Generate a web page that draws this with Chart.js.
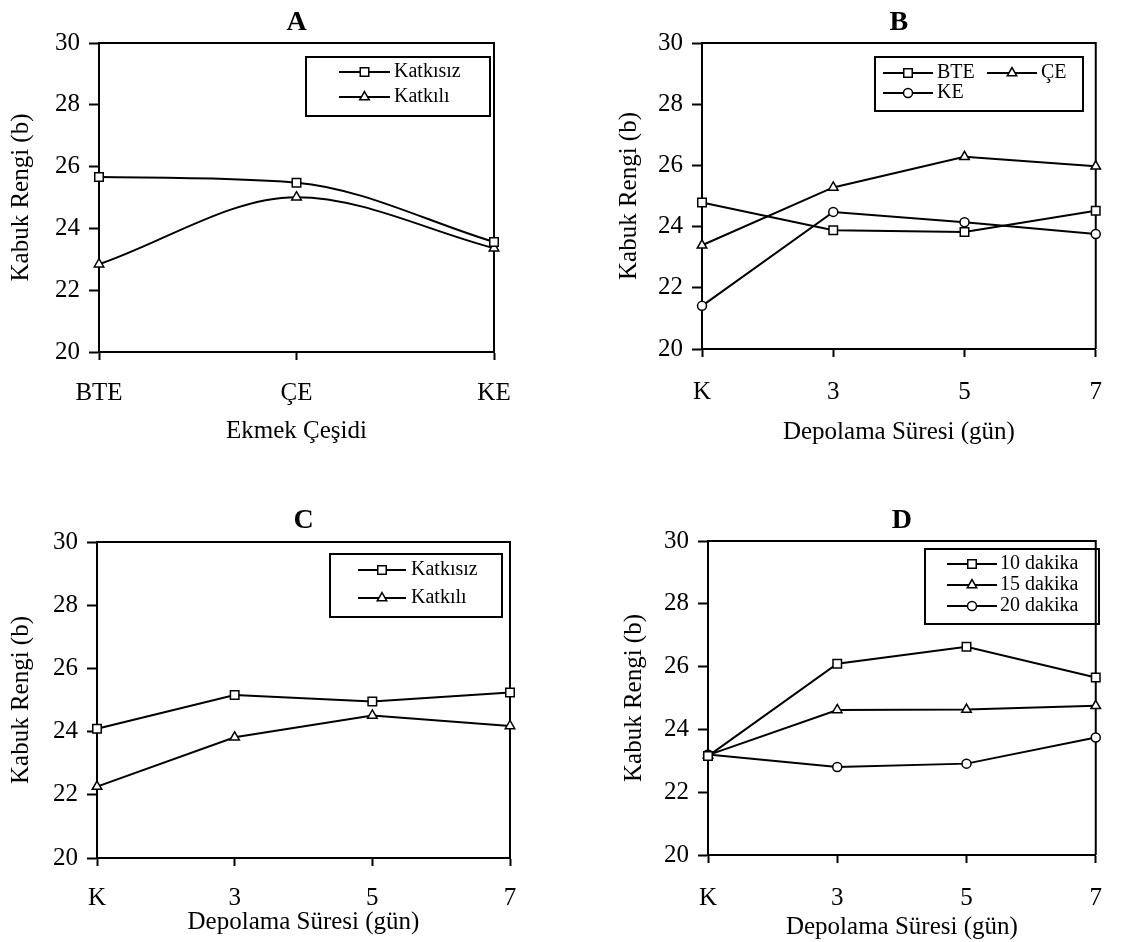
<!DOCTYPE html>
<html>
<head>
<meta charset="utf-8">
<script src="https://cdn.jsdelivr.net/npm/chart.js@4.4.1/dist/chart.umd.min.js"></script>
<style>
  body { margin: 0; background: #fff; }
  #wrap { position: relative; width: 1122px; height: 942px; overflow: hidden; }
  .pane { position: absolute; width: 561px; height: 471px; }
</style>
</head>
<body>
<div id="wrap">
  <div class="pane" style="left:0;top:0"><canvas id="chartA"></canvas></div>
  <div class="pane" style="left:561px;top:0"><canvas id="chartB"></canvas></div>
  <div class="pane" style="left:0;top:471px"><canvas id="chartC"></canvas></div>
  <div class="pane" style="left:561px;top:471px"><canvas id="chartD"></canvas></div>
</div>
<script>
// categories
const breadTypes = ['BTE', 'ÇE', 'KE'];
const storageDays = ['K', '3', '5', '7'];

// A: bread type
const aPlain = [25.66, 25.48, 23.56];
const aAdded = [22.84, 25.01, 23.36];
// B: storage, per bread type
const bBTE = [24.79, 23.88, 23.82, 24.52];
const bCE = [23.39, 25.28, 26.28, 25.97];
const bKE = [21.41, 24.48, 24.14, 23.76];
// C: storage, additive
const cPlain = [24.09, 25.16, 24.95, 25.24];
const cAdded = [22.26, 23.82, 24.51, 24.18];
// D: storage, baking time
const d10 = [23.15, 26.09, 26.63, 25.65];
const d15 = [23.18, 24.62, 24.63, 24.75];
const d20 = [23.20, 22.80, 22.91, 23.74];

const SERIF = "'Liberation Serif', 'Times New Roman', serif";
const radii = { rect: 6, triangle: 5.5, circle: 4.5 };

function series(label, data, shape, smooth) {
    const ds = {
        label: label,
        data: data,
        borderColor: '#000',
        borderWidth: 2,
        pointStyle: shape,
        pointRadius: radii[shape],
        pointBackgroundColor: '#fff',
        pointBorderColor: '#000',
        pointBorderWidth: 1.5,
        tension: 0,
        clip: false
    };
    if (smooth) ds.cubicInterpolationMode = 'monotone';
    return ds;
}

// top + right border of the plot box
const frame = {
    id: 'frame',
    beforeDatasetsDraw(chart) {
        const { ctx, chartArea: a } = chart;
        ctx.save();
        ctx.strokeStyle = '#000';
        ctx.lineWidth = 2;
        ctx.beginPath();
        ctx.moveTo(a.left, a.top);
        ctx.lineTo(a.right, a.top);
        ctx.lineTo(a.right, a.bottom);
        ctx.stroke();
        ctx.restore();
    }
};

// boxed legend inside the plot, line sample with marker in the middle
const boxLegend = {
    id: 'boxLegend',
    afterDraw(chart, args, opts) {
        if (!opts.box) return;
        const ctx = chart.ctx;
        const [bx, by, bw, bh] = opts.box;
        ctx.save();
        ctx.strokeStyle = '#000';
        ctx.lineWidth = 2;
        ctx.strokeRect(bx, by, bw, bh);
        ctx.font = opts.font;
        ctx.textBaseline = 'middle';
        opts.items.forEach(it => {
            const ds = chart.data.datasets[it.i];
            ctx.strokeStyle = '#000';
            ctx.lineWidth = 2;
            ctx.beginPath();
            ctx.moveTo(it.x, it.y);
            ctx.lineTo(it.x + opts.lineLen, it.y);
            ctx.stroke();
            ctx.fillStyle = '#fff';
            ctx.lineWidth = ds.pointBorderWidth;
            Chart.helpers.drawPoint(ctx, {
                pointStyle: ds.pointStyle,
                radius: ds.pointRadius,
                borderWidth: ds.pointBorderWidth,
                rotation: 0
            }, it.x + opts.lineLen / 2, it.y);
            ctx.fillStyle = '#000';
            ctx.fillText(ds.label, it.x + opts.lineLen + opts.gap, it.y);
        });
        ctx.restore();
    }
};

function makeConfig(g) {
    return {
        type: 'line',
        data: { labels: g.labels, datasets: g.datasets },
        options: {
            responsive: true,
            maintainAspectRatio: false,
            animation: false,
            devicePixelRatio: 1,
            layout: { padding: { left: 0, top: 0, bottom: 0, right: g.padRight } },
            plugins: {
                legend: { display: false },
                tooltip: { enabled: false },
                title: {
                    display: true,
                    text: g.title,
                    fullSize: false,
                    color: '#000',
                    font: { family: SERIF, size: 28, weight: 'bold', lineHeight: 1.2 },
                    padding: { top: g.titleTop, bottom: g.titleBottom }
                },
                boxLegend: g.legend
            },
            scales: {
                x: {
                    offset: false,
                    grid: { display: true, drawOnChartArea: false, tickLength: 8, tickWidth: 2, tickColor: '#000' },
                    border: { display: true, color: '#000', width: 2 },
                    ticks: {
                        color: '#000', autoSkip: false, maxRotation: 0,
                        font: { family: SERIF, size: 25 },
                        padding: g.xTickPad
                    },
                    title: {
                        display: true, text: g.xTitle, color: '#000',
                        font: { family: SERIF, size: 25, lineHeight: 1.2 },
                        padding: { top: 0, bottom: g.xTitlePad }
                    },
                    afterFit: s => { s.height = g.xHeight; }
                },
                y: {
                    min: 20, max: 30,
                    grid: { display: true, drawOnChartArea: false, tickLength: 10, tickWidth: 2, tickColor: '#000' },
                    border: { display: true, color: '#000', width: 2 },
                    ticks: {
                        stepSize: 2, color: '#000',
                        font: { family: SERIF, size: 25 },
                        padding: 9
                    },
                    title: {
                        display: true, text: 'Kabuk Rengi (b)', color: '#000',
                        font: { family: SERIF, size: 25, lineHeight: 1.2 },
                        padding: { top: g.yTitlePad, bottom: 0 }
                    },
                    afterFit: s => { s.width = g.yWidth; }
                }
            }
        },
        plugins: [frame, boxLegend]
    };
}

const LEGEND_FONT = "20px " + SERIF;

new Chart(document.getElementById('chartA'), makeConfig({
    title: 'A', labels: breadTypes,
    datasets: [series('Katkısız', aPlain, 'rect', true), series('Katkılı', aAdded, 'triangle', true)],
    padRight: 67, titleTop: 6.2, titleBottom: 3.2,
    yWidth: 99, yTitlePad: 6.5,
    xHeight: 119, xTickPad: 18, xTitle: 'Ekmek Çeşidi', xTitlePad: 25,
    legend: { box: [306, 57, 184, 59], font: LEGEND_FONT, lineLen: 51, gap: 4,
        items: [{ i: 0, x: 339, y: 72 }, { i: 1, x: 339, y: 97 }] }
}));

new Chart(document.getElementById('chartB'), makeConfig({
    title: 'B', labels: storageDays,
    datasets: [series('BTE', bBTE, 'rect'), series('ÇE', bCE, 'triangle'), series('KE', bKE, 'circle')],
    padRight: 17, titleTop: 6.2, titleBottom: 3.2,
    yWidth: 141, yTitlePad: 53,
    xHeight: 122, xTickPad: 20, xTitle: 'Depolama Süresi (gün)', xTitlePad: 24,
    legend: { box: [314, 57, 208, 54], font: LEGEND_FONT, lineLen: 50, gap: 4,
        items: [{ i: 0, x: 322, y: 73 }, { i: 1, x: 426, y: 73 }, { i: 2, x: 322, y: 93 }] }
}));

new Chart(document.getElementById('chartC'), makeConfig({
    title: 'C', labels: storageDays,
    datasets: [series('Katkısız', cPlain, 'rect'), series('Katkılı', cAdded, 'triangle')],
    padRight: 51, titleTop: 33.2, titleBottom: 4.2,
    yWidth: 97, yTitlePad: 6.5,
    xHeight: 84, xTickPad: 17, xTitle: 'Depolama Süresi (gün)', xTitlePad: 5,
    legend: { box: [330, 83, 172, 63], font: LEGEND_FONT, lineLen: 48, gap: 5,
        items: [{ i: 0, x: 358, y: 99 }, { i: 1, x: 358, y: 127 }] }
}));

new Chart(document.getElementById('chartD'), makeConfig({
    title: 'D', labels: storageDays,
    datasets: [series('10 dakika', d10, 'rect'), series('15 dakika', d15, 'triangle'), series('20 dakika', d20, 'circle')],
    padRight: 16, titleTop: 33.2, titleBottom: 3.2,
    yWidth: 147, yTitlePad: 58,
    xHeight: 87, xTickPad: 20, xTitle: 'Depolama Süresi (gün)', xTitlePad: 0,
    legend: { box: [364, 78, 174, 75], font: LEGEND_FONT, lineLen: 50, gap: 3,
        items: [{ i: 0, x: 386, y: 93 }, { i: 1, x: 386, y: 114 }, { i: 2, x: 386, y: 135 }] }
}));
</script>
</body>
</html>
